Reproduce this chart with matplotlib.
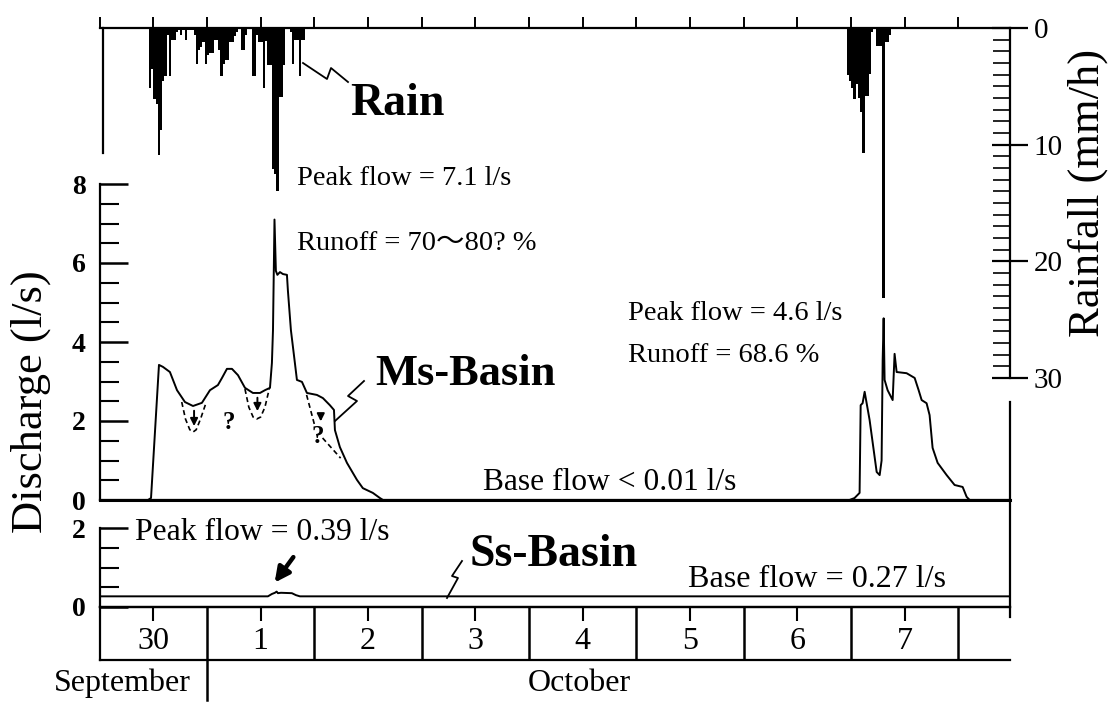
import numpy as np
import matplotlib
matplotlib.use("Agg")
import matplotlib.pyplot as plt
from matplotlib.lines import Line2D
from matplotlib.ticker import MultipleLocator, FixedLocator

plt.rcParams['font.family'] = ['Liberation Serif', 'Noto Sans CJK JP', 'DejaVu Sans']

# ---------------- data (x in days from 30 Sep 00:00) ----------------
# Rainfall, half-hour bins (mm/h)
rain1_start_h = 11.0
rain1_vals = [5.1, 3.5, 6.1, 6.5, 10.9, 8.7, 4.5, 4.1, 0.6, 4.1,
              1.0, 1.0, 0.3, 0.2, 0.6, 0.2, 1.0, 0.2, 0.2, 0.2,
              0.6, 3.1, 1.9, 1.6, 1.2, 3.1, 2.3, 2.1, 2.1, 1.0,
              1.0, 1.9, 4.1, 3.1, 2.7, 2.7, 1.2, 1.2, 0.7, 0.3,
              0.1, 1.9, 1.9, 0.6, 0.0, 0.0, 4.1, 4.1, 0.6, 1.2,
              1.2, 5.1, 1.1, 3.2, 3.2, 12.1, 12.5, 14.0, 5.9, 5.9,
              3.2, 0.0, 0.0, 0.3, 3.1, 1.0, 1.0, 4.1, 1.0, 1.0]
rain2_start_h = 167.0
rain2_vals = [4.0, 4.5, 5.1, 6.1, 4.8, 6.0, 7.2, 10.7, 5.8, 5.8,
              3.9, 0.3, 0.1, 1.5, 1.5, 1.5, 23.1, 1.2, 1.2, 0.6]

# Ms-Basin discharge (l/s)
ms_t = [0.0, 0.451, 0.479, 0.553, 0.590, 0.655, 0.721, 0.795, 0.870, 0.953,
        1.028, 1.102, 1.140, 1.186, 1.233, 1.289, 1.354, 1.428, 1.494, 1.540,
        1.587, 1.605, 1.615, 1.629, 1.642, 1.656, 1.680, 1.708, 1.745, 1.754,
        1.782, 1.819, 1.838, 1.885, 1.931, 2.024, 2.080, 2.145, 2.183, 2.192,
        2.238, 2.304, 2.397, 2.452, 2.545, 2.611, 2.640,
        6.985, 7.032, 7.079, 7.089, 7.107, 7.126, 7.172, 7.219, 7.238, 7.266,
        7.284, 7.294, 7.303, 7.312, 7.340, 7.387, 7.405, 7.424, 7.517, 7.592,
        7.629, 7.657, 7.703, 7.731, 7.759, 7.806, 7.890, 7.964, 8.039, 8.076,
        8.104, 8.48]
ms_q = [0.0, 0.0, 0.05, 3.42, 3.37, 3.24, 2.78, 2.48, 2.38, 2.46,
        2.78, 2.91, 3.09, 3.32, 3.32, 3.16, 2.84, 2.71, 2.71, 2.78,
        2.84, 3.47, 4.3, 7.1, 5.8, 5.7, 5.77, 5.72, 5.7, 5.3,
        4.3, 3.47, 3.04, 2.99, 2.71, 2.66, 2.58, 2.40, 2.28, 1.77,
        1.34, 0.94, 0.51, 0.30, 0.18, 0.05, 0.0,
        0.0, 0.05, 0.18, 2.4, 2.45, 2.74, 2.03, 1.09, 0.71, 0.63,
        1.0, 3.54, 4.6, 3.04, 2.78, 2.53, 3.7, 3.24, 3.21, 3.09,
        2.78, 2.53, 2.45, 2.15, 1.32, 0.94, 0.63, 0.38, 0.33, 0.08,
        0.0, 0.0]

# Ms-Basin alternative (dashed) recessions
dip1_t = [0.765, 0.80, 0.84, 0.87, 0.90, 0.94, 0.99]
dip1_q = [2.48, 2.05, 1.78, 1.72, 1.78, 2.05, 2.45]
dip2_t = [1.354, 1.39, 1.43, 1.463, 1.50, 1.54, 1.58]
dip2_q = [2.81, 2.35, 2.10, 2.05, 2.10, 2.35, 2.81]
dip3a_t = [1.928, 2.006]
dip3a_q = [2.66, 1.86]
dip3b_t = [2.077, 2.245]
dip3b_q = [1.57, 1.06]

# Ss-Basin discharge (l/s)
ss_t = [0.0, 1.568, 1.605, 1.633, 1.649, 1.661, 1.689, 1.791, 1.829, 1.866, 8.48]
ss_q = [0.27, 0.27, 0.33, 0.36, 0.39, 0.35, 0.36, 0.35, 0.30, 0.27, 0.27]

day_labels = ['30', '1', '2', '3', '4', '5', '6', '7']
month_labels = ['September', 'October']

# ---------------- layout helpers ----------------
W, H = 1112, 702
fig = plt.figure(figsize=(W / 100, H / 100), dpi=100)
XL, XR = 99.6, 1010.0
XMAX = 8.48


def add_ax(top, bottom, left=XL, right=XR):
    return fig.add_axes([left / W, 1 - bottom / H, (right - left) / W, (bottom - top) / H])


def fpx(x, y):
    return x / W, 1 - y / H


LW = 1.6

# ---------------- rain axes ----------------
ax_r = add_ax(28, 378)
ax_r.patch.set_alpha(0)
ax_r.set_xlim(0, XMAX)
ax_r.set_ylim(30, 0)
bw = 0.5 / 24
t1 = rain1_start_h / 24 + np.arange(len(rain1_vals)) * bw
t2 = rain2_start_h / 24 + np.arange(len(rain2_vals)) * bw
ax_r.bar(t1, rain1_vals, width=bw, align='edge', color='black', linewidth=0)
ax_r.bar(t2, rain2_vals, width=bw, align='edge', color='black', linewidth=0)
ax_r.spines['bottom'].set_visible(False)
ax_r.spines['top'].set_linewidth(LW)
ax_r.spines['right'].set_linewidth(LW)
ax_r.spines['left'].set_linewidth(LW)
ax_r.spines['left'].set_bounds(0, 10.7)
ax_r.spines['left'].set_position(('data', 0.03))
ax_r.xaxis.set_ticks_position('top')
ax_r.set_xticks(np.arange(0, 8.01, 0.5))
ax_r.tick_params(axis='x', direction='out', length=8, width=1.4, labeltop=False, labelbottom=False)
ax_r.yaxis.set_ticks_position('right')
ax_r.set_yticks([0, 10, 20, 30])
ax_r.yaxis.set_minor_locator(MultipleLocator(1))
ax_r.tick_params(axis='y', which='major', direction='inout', length=26, width=1.6, pad=4,
                 labelsize=21)
ax_r.tick_params(axis='y', which='minor', direction='in', length=12, width=1.2)
ax_r.tick_params(axis='y', which='both', left=False, labelleft=False)

# ---------------- Ms-Basin axes ----------------
ax_m = add_ax(184, 500)
ax_m.patch.set_alpha(0)
ax_m.set_xlim(0, XMAX)
ax_m.set_ylim(0, 8)
ax_m.plot(ms_t, ms_q, color='black', lw=1.4)
for tt, qq in [(dip1_t, dip1_q), (dip2_t, dip2_q), (dip3a_t, dip3a_q), (dip3b_t, dip3b_q)]:
    ax_m.plot(tt, qq, color='black', lw=1.2, ls=(0, (3, 2)))
for (x0, y0, y1) in [(0.88, 2.33, 1.80), (1.47, 2.66, 2.18), (2.06, 2.18, 1.92)]:
    ax_m.annotate('', xy=(x0, y1), xytext=(x0, y0),
                  arrowprops=dict(arrowstyle='-|>', color='black', lw=1.4, mutation_scale=11))
ax_m.text(1.205, 1.95, '?', fontsize=18, fontweight='bold', ha='center', va='center')
ax_m.text(2.036, 1.60, '?', fontsize=18, fontweight='bold', ha='center', va='center')
ax_m.spines['top'].set_visible(False)
ax_m.spines['right'].set_bounds(0, 2.48)
for s in ['left', 'right']:
    ax_m.spines[s].set_linewidth(LW)
ax_m.spines['bottom'].set_linewidth(2.2)
ax_m.set_xticks([])
ax_m.set_yticks([0, 2, 4, 6, 8])
ax_m.yaxis.set_minor_locator(MultipleLocator(0.5))
ax_m.tick_params(axis='y', which='major', direction='in', length=20, width=1.8, pad=10)
ax_m.tick_params(axis='y', which='minor', direction='in', length=14, width=1.5)
for lab in ax_m.get_yticklabels():
    lab.set_fontsize(20)
    lab.set_fontweight('bold')

# ---------------- Ss-Basin axes ----------------
ax_s = add_ax(500, 607)
ax_s.patch.set_alpha(0)
ax_s.set_xlim(0, XMAX)
ax_s.set_ylim(0, 107 / 39.5)
ax_s.plot(ss_t, ss_q, color='black', lw=1.4)
ax_s.spines['left'].set_bounds(0, 2)
ax_s.spines['right'].set_bounds(-0.25, 107 / 39.5)
for s in ['left', 'right', 'bottom', 'top']:
    ax_s.spines[s].set_linewidth(LW)
ax_s.set_xticks([])
ax_s.set_yticks([0, 2])
ax_s.yaxis.set_minor_locator(FixedLocator([0.5, 1.0, 1.5]))
ax_s.tick_params(axis='y', which='major', direction='in', length=20, width=1.8, pad=10)
ax_s.tick_params(axis='y', which='minor', direction='in', length=14, width=1.5)
for lab in ax_s.get_yticklabels():
    lab.set_fontsize(20)
    lab.set_fontweight('bold')
ax_s.annotate('', xy=(1.615, 0.56), xytext=(1.82, 1.32),
              arrowprops=dict(arrowstyle='-|>', color='black', lw=3.2, mutation_scale=22))

# ---------------- date table ----------------
ax_t = add_ax(607, 660)
ax_t.patch.set_alpha(0)
ax_t.set_xlim(0, XMAX)
ax_t.set_ylim(0, 1)
ax_t.spines['right'].set_visible(False)
for s in ['left', 'bottom', 'top']:
    ax_t.spines[s].set_linewidth(LW)
for d in range(1, 9):
    ax_t.plot([d, d], [0, 1], color='black', lw=1.8)
ax_t.plot([1, 1], [0, -0.76], color='black', lw=1.8, clip_on=False)
ax_t.xaxis.set_ticks_position('top')
ax_t.set_xticks(np.arange(0.5, 8.0, 1.0))
ax_t.tick_params(axis='x', direction='in', length=10, width=1.5, labeltop=False, labelbottom=False)
ax_t.set_yticks([])
for i, lab in enumerate(day_labels):
    ax_t.text(i + 0.5, 0.34, lab, fontsize=23, ha='center', va='center')
ax_t.text(0.21, -0.44, month_labels[0], fontsize=23, ha='center', va='center')
ax_t.text(4.47, -0.44, month_labels[1], fontsize=23, ha='center', va='center')

# ---------------- axis titles ----------------
fig.text(*fpx(31, 402), 'Discharge (l/s)', rotation=90, fontsize=32, ha='center', va='center')
fig.text(*fpx(1088, 193), 'Rainfall (mm/h)', rotation=90, fontsize=32, ha='center', va='center')

# ---------------- annotations ----------------
texts = [
    (350, 115, 'Rain', 33, 'bold'),
    (297, 185, 'Peak flow = 7.1 l/s', 20.5, 'normal'),
    (297, 250, 'Runoff = 70～80? %', 20.5, 'normal'),
    (375, 385, 'Ms-Basin', 32, 'bold'),
    (628, 320, 'Peak flow = 4.6 l/s', 20.5, 'normal'),
    (628, 362, 'Runoff = 68.6 %', 20.5, 'normal'),
    (483, 490, 'Base flow < 0.01 l/s', 22.7, 'normal'),
    (135, 540, 'Peak flow = 0.39 l/s', 22.8, 'normal'),
    (470, 566, 'Ss-Basin', 33, 'bold'),
    (688, 587, 'Base flow = 0.27 l/s', 23.1, 'normal'),
]
for x, y, s, fs, fw in texts:
    fig.text(*fpx(x, y), s, fontsize=fs, fontweight=fw, ha='left', va='baseline')

leaders = [
    [(303, 63), (327, 79), (331, 68), (348, 82)],
    [(335, 421), (357, 401), (348, 396), (364, 381)],
    [(447, 598), (458, 578), (452, 576), (462, 561)],
]
for pts in leaders:
    xs = [p[0] / W for p in pts]
    ys = [1 - p[1] / H for p in pts]
    fig.add_artist(Line2D(xs, ys, color='black', lw=1.3, transform=fig.transFigure))

fig.savefig('out.png', dpi=100)
